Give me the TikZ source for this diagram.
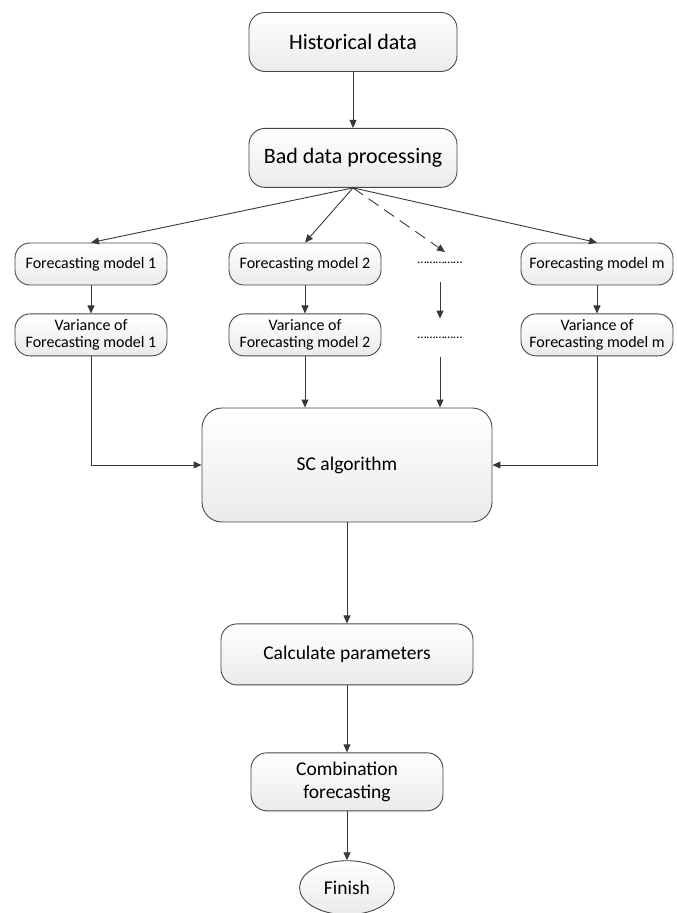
\documentclass[tikz,border=0pt]{standalone}
\usepackage{fontspec}
\setmainfont{Carlito}
\usetikzlibrary{arrows.meta,positioning,shapes.geometric}

\begin{document}
\begin{tikzpicture}[
  x=1pt, y=1pt, line width=0.9pt,
  blk/.style={draw=black!72, rounded corners=16pt, top color=white, bottom color=black!8, align=center, inner sep=2pt},
  big/.style={blk, minimum width=208pt, minimum height=59pt, font=\fontsize{22}{25}\selectfont},
  pill/.style={blk, rounded corners=15pt, minimum width=152pt, minimum height=42pt, font=\fontsize{16}{17.5}\selectfont},
  mid/.style={blk, font=\fontsize{19.5}{23}\selectfont},
  dotrow/.style={inner sep=0pt, minimum height=38pt, font=\fontsize{13}{13}\selectfont},
  arr/.style={draw=black!78, -{Triangle[length=8pt,width=7pt]}},
  darr/.style={arr, dash pattern=on 12pt off 7pt}
]
\useasboundingbox (0,0) rectangle (677,-913);
\node[big] (hist) at (353,-42) {Historical data};
\node[big, below=56pt of hist] (bad) {Bad data processing};
\node[pill] (fm1) at (91,-264) {Forecasting model 1};
\node[pill] (fm2) at (305,-264) {Forecasting model 2};
\node[dotrow] (dt1) at (440,-263) {……………};
\node[pill] (fmm) at (597,-264) {Forecasting model m};
\coordinate (dtip) at (445,-252);
\node[pill, below=28pt of fm1] (var1) {Variance of\\Forecasting model 1};
\node[pill, below=28pt of fm2] (var2) {Variance of\\Forecasting model 2};
\node[dotrow] (dt2) at (440,-338) {……………};
\node[pill, below=28pt of fmm] (varm) {Variance of\\Forecasting model m};
\node[mid, rounded corners=20pt, minimum width=290pt, minimum height=114pt] (sc) at (347,-465) {SC algorithm};
\node[mid, minimum width=252pt, minimum height=61pt, below=101pt of sc] (calc) {Calculate parameters};
\node[mid, minimum width=192pt, minimum height=58pt, below=67pt of calc] (comb) {Combination\\forecasting};
\node[mid, ellipse, minimum width=95pt, minimum height=54pt, below=49pt of comb] (fin) {Finish};
% top part
\draw[arr] (hist) -- (bad);
\foreach \n in {fm1,fm2,fmm} \draw[arr] (bad.south) -- (\n.north);
\draw[darr] (bad.south) -- (dtip);
\foreach \n/\v in {fm1/var1,fm2/var2,fmm/varm} \draw[arr] (\n) -- (\v);
\draw[arr] (dt1.south) -- (dt2.north);
% into SC
\draw[arr] (var1.south) |- (sc.west);
\draw[arr] (var2.south) -- (var2.south |- sc.north);
\draw[arr] (dt2.south) -- (dt2.south |- sc.north);
\draw[arr] (varm.south) |- (sc.east);
% bottom chain
\draw[arr] (sc) -- (calc);
\draw[arr] (calc) -- (comb);
\draw[arr] (comb) -- (fin);
\end{tikzpicture}
\end{document}
